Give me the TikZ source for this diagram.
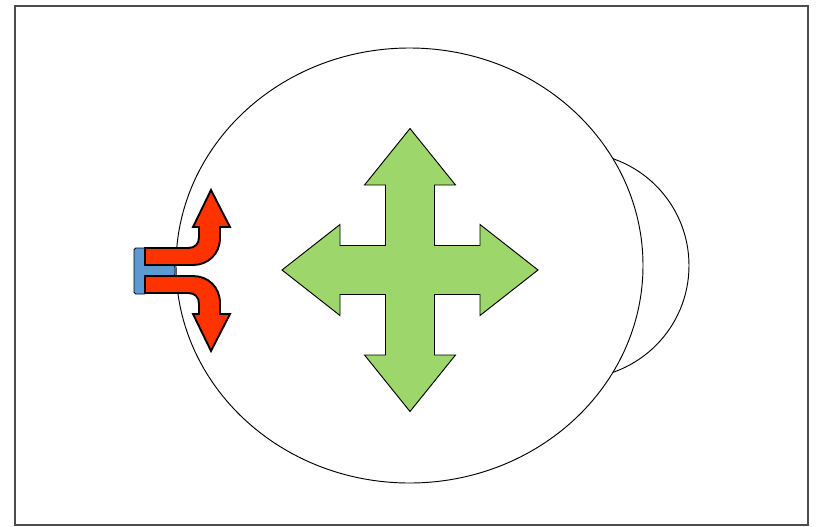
\documentclass[tikz,border=0pt]{standalone}
\usepackage{xcolor}
\usepackage{tikz}
\usetikzlibrary{positioning}
\definecolor{softgreen}{RGB}{157,214,106}
\definecolor{hotred}{RGB}{255,51,0}
\definecolor{softblue}{RGB}{91,155,213}

\begin{document}
\begin{tikzpicture}[x=0.03cm, y=-0.03cm, outline/.style={draw=black, line width=0.8pt}, redarrow/.style={fill=hotred, draw=black, line width=1.6pt, line join=miter}]
	\useasboundingbox (0,0) rectangle (822,526);
	\draw[gray!60!black, line width=1.2pt] (15,6) rectangle (808,525);
	
	% ear and head
	\draw[outline] (576,265.5) circle[radius=113];
	\fill[white] (409.5,265.5) ellipse[x radius=233.5, y radius=217.5];
	\draw[outline] (409.5,265.5) ellipse[x radius=233.5, y radius=217.5];
	
	% four-way arrow
	\draw[outline, fill=softgreen] (410,128.5) -- (455.5,185) -- (434.5,185) -- (434.5,245.5) -- (480,245.5) -- (480,224.5) -- (538,270) -- (480,315.5) -- (480,294.5) -- (434.5,294.5) -- (434.5,355) -- (455.5,355) -- (410,411.5) -- (364.5,355) -- (385.5,355) -- (385.5,294.5) -- (340,294.5) -- (340,315.5) -- (282,270) -- (340,224.5) -- (340,245.5) -- (385.5,245.5) -- (385.5,185) -- (364.5,185) -- cycle;
	
	% source and split arrows
	\draw[outline, fill=softblue, rounded corners=1.5pt] (146,248) -- (134,248) -- (134,294) -- (146,294) -- (146,276) -- (175,276) -- (175,265) -- (146,265) -- cycle;
	\draw[redarrow] (145,248) -- (188,248) .. controls (195,248) and (199,244) .. (199,237) -- (199,227) -- (193,227) -- (211,190) -- (230,227) -- (220,227) -- (220,238) .. controls (220,254) and (208,265) .. (193,265) -- (145,265) -- cycle;
	\draw[redarrow] (145,293) -- (188,293) .. controls (195,293) and (199,297) .. (199,304) -- (199,314) -- (193,314) -- (211,351) -- (230,314) -- (220,314) -- (220,303) .. controls (220,287) and (208,276) .. (193,276) -- (145,276) -- cycle;
\end{tikzpicture}
\end{document}
